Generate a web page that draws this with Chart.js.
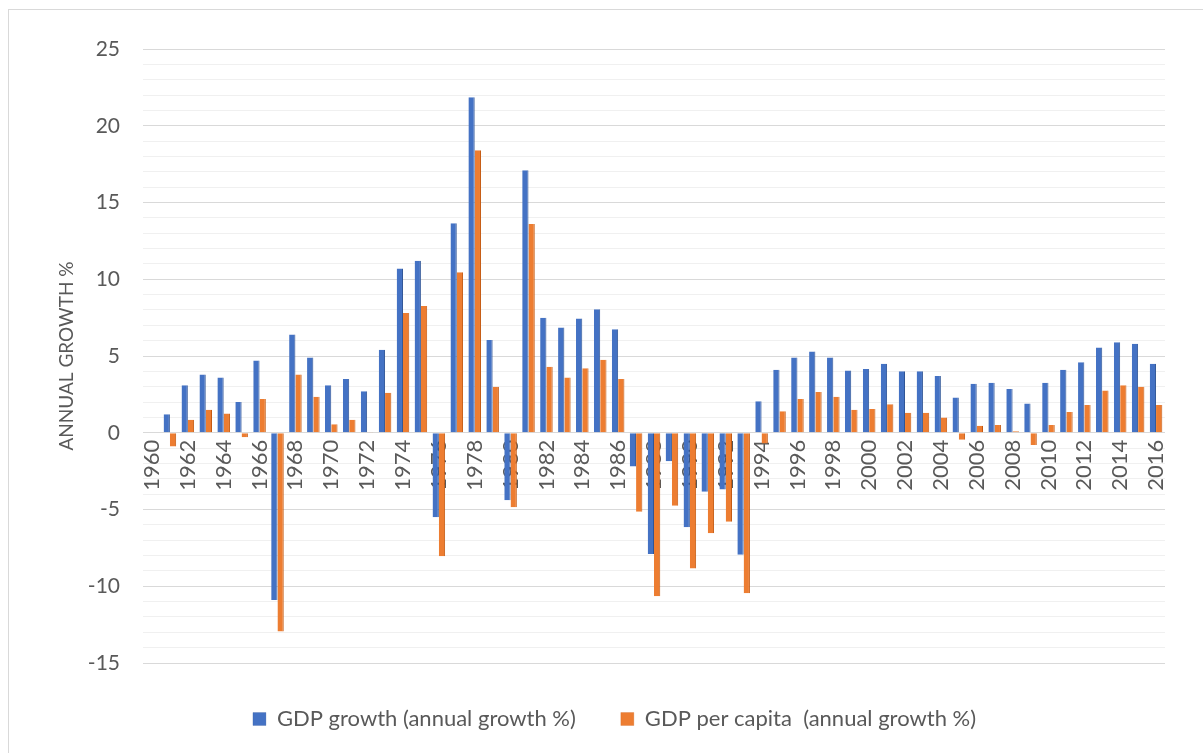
<!DOCTYPE html>
<html>
<head>
<meta charset="utf-8">
<script src="https://cdn.jsdelivr.net/npm/chart.js@4"></script>
<style>
    html, body { margin: 0; padding: 0; background: #ffffff; overflow: hidden; }
    #wrap { position: relative; width: 1203px; height: 753px; }
    #frame { position: absolute; left: 8px; top: 9px; width: 1300px; height: 800px; border: 1px solid #d9d9d9; pointer-events: none; }
</style>
</head>
<body>
<div id="wrap">
    <canvas id="gdpChart" width="1203" height="753"></canvas>
    <div id="frame"></div>
</div>
<script>
// Years on the x-axis (1960 has no data)
const years = [];
for (let y = 1960; y <= 2016; y++) years.push(String(y));

// GDP growth (annual %)
const gdpGrowth = [
    null, 1.2, 3.1, 3.8, 3.6, 2.0, 4.7, -10.9, 6.4, 4.9,
    3.1, 3.5, 2.7, 5.4, 10.7, 11.2, -5.5, 13.65, 21.85, 6.05,
    -4.4, 17.1, 7.5, 6.85, 7.45, 8.05, 6.75, -2.2, -7.9, -1.85,
    -6.15, -3.85, -3.7, -7.95, 2.05, 4.1, 4.9, 5.3, 4.9, 4.05,
    4.15, 4.5, 4.0, 4.0, 3.7, 2.3, 3.2, 3.25, 2.85, 1.9,
    3.25, 4.1, 4.6, 5.55, 5.9, 5.8, 4.5
];

// GDP per capita growth (annual %)
const gdpPerCapita = [
    null, -0.9, 0.85, 1.5, 1.25, -0.3, 2.2, -12.95, 3.8, 2.35,
    0.55, 0.85, 0.05, 2.6, 7.8, 8.25, -8.05, 10.45, 18.4, 3.0,
    -4.85, 13.6, 4.3, 3.6, 4.2, 4.75, 3.5, -5.15, -10.65, -4.75,
    -8.85, -6.55, -5.8, -10.45, -0.7, 1.4, 2.2, 2.65, 2.35, 1.5,
    1.55, 1.85, 1.3, 1.3, 1.0, -0.45, 0.45, 0.5, 0.1, -0.8,
    0.5, 1.35, 1.8, 2.75, 3.1, 3.0, 1.8
];

const seriesNames = ['GDP growth (annual growth %)', 'GDP per capita  (annual growth %)'];
const textColor = '#595959';

// Nudge the legend so it is centred under the plot like in the original
const legendShift = {
    id: 'legendShift',
    afterLayout(chart) {
        if (chart.legend) chart.legend.left += 64;
    }
};

const ctx = document.getElementById('gdpChart').getContext('2d');

new Chart(ctx, {
    type: 'bar',
    data: {
        labels: years,
        datasets: [
            {
                label: seriesNames[0],
                data: gdpGrowth,
                backgroundColor: '#4472C4',
                borderColor: '#2F5597',
                borderWidth: { right: 1 },
                borderSkipped: 'start',
                categoryPercentage: 0.7,
                barPercentage: 1.0
            },
            {
                label: seriesNames[1],
                data: gdpPerCapita,
                backgroundColor: '#ED7D31',
                borderColor: '#C55A11',
                borderWidth: { right: 1 },
                borderSkipped: 'start',
                categoryPercentage: 0.7,
                barPercentage: 1.0
            }
        ]
    },
    options: {
        responsive: false,
        animation: false,
        layout: {
            padding: { top: 49, right: 38, bottom: 13, left: 0 }
        },
        plugins: {
            tooltip: { enabled: false },
            legend: {
                position: 'bottom',
                labels: {
                    boxWidth: 13,
                    boxHeight: 13,
                    padding: 45,
                    color: textColor,
                    font: { family: 'Lato', size: 22 }
                }
            }
        },
        scales: {
            x: {
                position: { y: 0 },
                z: 1,  // year labels sit on top of the bars
                grid: { display: false, drawTicks: false },
                border: { display: false },
                ticks: {
                    autoSkip: false,
                    minRotation: 90,
                    maxRotation: 90,
                    padding: 7,
                    color: textColor,
                    font: { family: 'Lato', size: 22 },
                    // only every other year gets a label
                    callback: function (value, index) {
                        return index % 2 === 0 ? this.getLabelForValue(value) : '';
                    }
                }
            },
            y: {
                min: -15,
                max: 25,
                afterFit: scale => { scale.width = 143; },
                grid: {
                    drawTicks: false,
                    color: c => (c.tick.value % 5 === 0 ? '#d9d9d9' : '#f0f0f0'),
                    lineWidth: 1
                },
                border: { display: false },
                ticks: {
                    stepSize: 1,
                    autoSkip: false,
                    padding: 23,
                    color: textColor,
                    font: { family: 'Lato', size: 21 },
                    callback: v => (v % 5 === 0 ? v : '')
                },
                title: {
                    display: true,
                    text: 'ANNUAL GROWTH %',
                    color: textColor,
                    font: { family: 'Lato', size: 19 },
                    padding: { top: 55, bottom: 0 }
                }
            }
        }
    },
    plugins: [legendShift]
});
</script>
</body>
</html>
